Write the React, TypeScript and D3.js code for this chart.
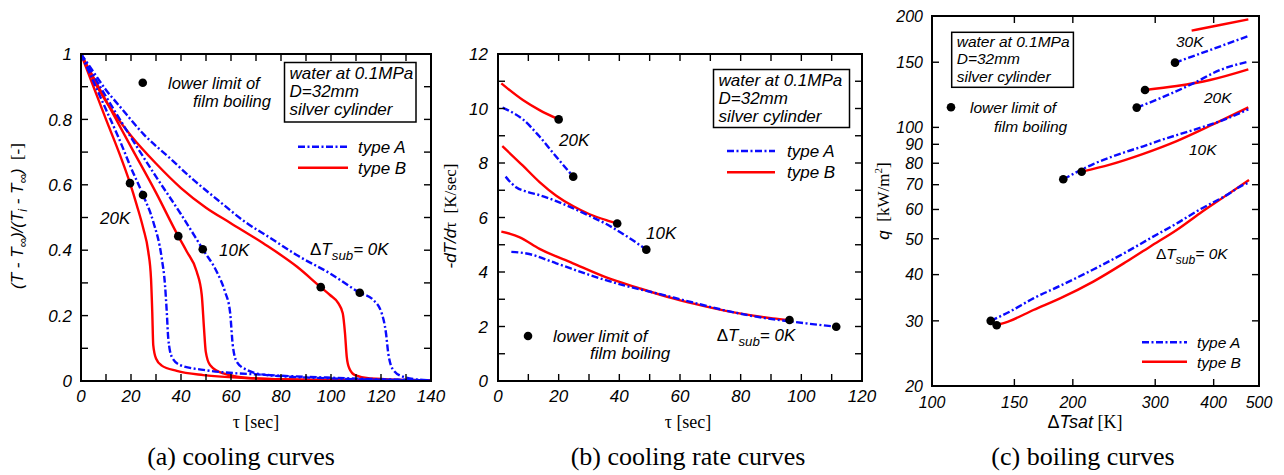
import React from 'react';
import * as d3 from 'd3';

type Pt = [number, number];

// ---------- (a) cooling curves : tau [sec] vs (T - Tinf)/(Ti - Tinf)
const coolA_0K: Pt[] = [[0,1],[5,0.945],[10,0.89],[15.6,0.839],[25,0.755],[35.6,0.681],[45,0.615],[55.6,0.548],[65,0.49],[75.6,0.438],[87,0.382],[99.6,0.329],[111.5,0.27],[116.9,0.248],[120.3,0.207],[122,0.146],[122.9,0.085],[124.9,0.034],[128.9,0.013],[136.9,0.003],[140,0.002]];
const coolB_0K: Pt[] = [[0,1],[5,0.92],[10,0.855],[20,0.75],[30,0.665],[40,0.59],[50,0.53],[59.6,0.484],[72.9,0.421],[86.3,0.35],[95.9,0.287],[99.6,0.263],[102.9,0.238],[104.7,0.207],[105.6,0.146],[106.3,0.074],[107.3,0.039],[109.6,0.018],[115.6,0.008],[140,0.002]];
const coolA_10K: Pt[] = [[0,1],[10,0.87],[20,0.745],[30,0.625],[40,0.51],[48.7,0.403],[54.3,0.334],[57.6,0.273],[59.6,0.212],[60.7,0.11],[62.3,0.059],[66.3,0.034],[74.3,0.018],[100,0.008],[140,0.002]];
const coolB_10K: Pt[] = [[0,1],[10,0.857],[20,0.716],[30,0.576],[38.9,0.443],[42.3,0.396],[46.3,0.334],[48.3,0.263],[49.2,0.161],[49.9,0.09],[51.6,0.049],[56.9,0.023],[68.9,0.008],[100,0.003],[140,0.001]];
const coolA_20K: Pt[] = [[0,1],[5,0.915],[10,0.83],[15,0.745],[20,0.652],[24.8,0.569],[28.9,0.487],[32.3,0.375],[33.6,0.294],[34.3,0.212],[34.9,0.131],[36.3,0.074],[39.6,0.049],[48.9,0.034],[75.6,0.018],[100,0.01],[140,0.002]];
const coolB_20K: Pt[] = [[0,1],[5,0.9],[10,0.8],[15,0.703],[19.6,0.605],[22.3,0.538],[24.9,0.467],[26.9,0.396],[28.0,0.314],[28.5,0.212],[28.9,0.11],[30,0.069],[32.3,0.047],[38.3,0.031],[48.9,0.018],[70,0.008],[100,0.003],[140,0.001]];
const coolDots: Pt[] = [[19.6,0.605],[24.8,0.569],[38.9,0.443],[48.7,0.403],[95.9,0.287],[111.5,0.27]];
const coolLegendDot: Pt = [24.7, 0.912];

// ---------- (b) cooling rate curves : tau [sec] vs -dT/dtau [K/sec]
const rateA_0K: Pt[] = [[4.4,4.74],[9.4,4.68],[19.2,4.32],[30.2,3.89],[41.2,3.52],[52.2,3.22],[63.2,2.91],[74.1,2.61],[85.1,2.36],[96.1,2.19],[111.5,1.99]];
const rateB_0K: Pt[] = [[1.1,5.48],[4,5.4],[7,5.28],[13.7,4.85],[24.7,4.32],[35.7,3.8],[46.7,3.4],[57.7,3.03],[68.7,2.73],[79.6,2.48],[90.6,2.3],[96.1,2.24]];
const rateA_10K: Pt[] = [[2.5,7.5],[4.5,7.25],[6.1,7.1],[9.4,6.95],[13.7,6.82],[19.2,6.6],[24.7,6.34],[30.2,6.06],[35.7,5.76],[42.3,5.32],[48.9,4.82]];
const rateB_10K: Pt[] = [[1.4,8.62],[8.2,7.9],[13.7,7.3],[19.2,6.8],[24.7,6.42],[30.2,6.12],[35.7,5.9],[39.3,5.78]];
const rateA_20K: Pt[] = [[1.5,10.03],[4,9.9],[8.2,9.6],[13.7,8.97],[19.2,8.23],[24.8,7.5]];
const rateB_20K: Pt[] = [[1.1,10.92],[8.2,10.31],[13.7,9.94],[20,9.6]];
const rateDots: Pt[] = [[20,9.6],[24.8,7.5],[39.3,5.78],[48.9,4.82],[96.1,2.24],[111.5,1.99]];
const rateLegendDot: Pt = [9.9, 1.65];

// ---------- (c) boiling curves : dTsat [K] vs q [kW/m2]
const boilA_0K: Pt[] = [[133.5,30.0],[146.8,31.8],[164.7,34.5],[187.8,37.3],[221.2,41.3],[260.7,46.1],[292.4,50.1],[333.4,55.0],[374,60],[426.4,65.6],[462.9,69.9],[476,70.9]];
const boilB_0K: Pt[] = [[137.5,29.2],[146.8,30.0],[164.7,32.1],[187.8,34.5],[221.2,38.3],[260.7,43.4],[292.4,47.6],[333.4,52.8],[374,58.6],[426.4,65.6],[476,72.1]];
const boilA_10K: Pt[] = [[190.8,72.4],[221.2,79.6],[260.7,86.0],[282.9,88.9],[307.1,92.2],[361.9,98.4],[412.7,103.9],[474.4,111.9]];
const boilB_10K: Pt[] = [[208.9,75.9],[240.1,79.3],[282.9,84.8],[333.4,91.8],[392.9,101.0],[474.4,113.3]];
const boilA_20K: Pt[] = [[273.9,113.1],[307.1,119.8],[361.9,131.5],[412.7,142.9],[474.4,150.5]];
const boilB_20K: Pt[] = [[285.3,126.2],[333.4,129.4],[392.9,134.3],[474.4,143.5]];
const boilA_30K: Pt[] = [[330.7,149.6],[392.9,161.8],[474.4,176.6]];
const boilB_30K: Pt[] = [[358.9,182.6],[412.7,189.1],[474.4,195.9]];
const boilDots: Pt[] = [[133.5,30.0],[137.5,29.2],[190.8,72.4],[208.9,75.9],[273.9,113.1],[285.3,126.2],[330.7,149.6]];
const boilLegendDot: Pt = [109.8, 113.3];

// ---------- ticks
const aXTicks = [0,10,20,30,40,50,60,70,80,90,100,110,120,130,140];
const aXLabels = [0,20,40,60,80,100,120,140];
const aYTicks = [0,0.1,0.2,0.3,0.4,0.5,0.6,0.7,0.8,0.9,1];
const aYLabels = [0,0.2,0.4,0.6,0.8,1];
const bXTicks = [0,10,20,30,40,50,60,70,80,90,100,110,120];
const bXLabels = [0,20,40,60,80,100,120];
const bYTicks = [0,1,2,3,4,5,6,7,8,9,10,11,12];
const bYLabels = [0,2,4,6,8,10,12];
const cXTicks = [100,150,200,300,400,500];
const cXLabels = [100,150,200,300,400,500];
const cYTicks = [20,30,40,50,60,70,80,90,100,150,200];
const cYLabels = [20,30,40,50,60,70,80,90,100,150,200];

const SANS = "'Liberation Sans', Arial, Helvetica, sans-serif";
const SERIF = "'Liberation Serif', 'Times New Roman', serif";
const RED = '#ff0000';
const BLUE = '#0a0aff';
const DASH = '7,2.5,2,2.5';
const NB = '\u00a0';

type Scale = (v: number) => number;

function Axes(props: { sx: any; sy: any; xTicks: number[]; yTicks: number[]; xLabels: number[]; yLabels: number[]; fs: number; xDy: number; yGap: number }) {
  const { sx, sy, xTicks, yTicks, xLabels, yLabels, fs, xDy, yGap } = props;
  const [x0, x1] = sx.range();
  const [yb, yt] = sy.range();
  const tl = 7;
  return (
    <g>
      {xTicks.map((t) => (
        <g key={'xt' + t}>
          <line x1={sx(t)} x2={sx(t)} y1={yb} y2={yb - tl} stroke="#000" strokeWidth={1.4} />
          <line x1={sx(t)} x2={sx(t)} y1={yt} y2={yt + tl} stroke="#000" strokeWidth={1.4} />
        </g>
      ))}
      {yTicks.map((t) => (
        <g key={'yt' + t}>
          <line x1={x0} x2={x0 + tl} y1={sy(t)} y2={sy(t)} stroke="#000" strokeWidth={1.4} />
          <line x1={x1} x2={x1 - tl} y1={sy(t)} y2={sy(t)} stroke="#000" strokeWidth={1.4} />
        </g>
      ))}
      <rect x={x0} y={yt} width={x1 - x0} height={yb - yt} fill="none" stroke="#000" strokeWidth={2} />
      {xLabels.map((t) => (
        <text key={'xl' + t} x={sx(t)} y={yb + xDy} textAnchor="middle" fontFamily={SANS} fontStyle="italic" fontSize={fs}>{String(t)}</text>
      ))}
      {yLabels.map((t) => (
        <text key={'yl' + t} x={x0 - yGap} y={sy(t)} dy="0.36em" textAnchor="end" fontFamily={SANS} fontStyle="italic" fontSize={fs}>{String(t)}</text>
      ))}
    </g>
  );
}

function Curve({ data, sx, sy, kind }: { data: Pt[]; sx: Scale; sy: Scale; kind: 'A' | 'B' }) {
  const gen = d3.line<Pt>().x((d) => sx(d[0])).y((d) => sy(d[1])).curve(d3.curveMonotoneX);
  return (
    <path d={gen(data) || ''} fill="none" stroke={kind === 'A' ? BLUE : RED} strokeWidth={2.4}
      strokeDasharray={kind === 'A' ? DASH : undefined} strokeLinejoin="round" />
  );
}

function Dots({ data, sx, sy }: { data: Pt[]; sx: Scale; sy: Scale }) {
  return <g>{data.map((d, i) => <circle key={i} cx={sx(d[0])} cy={sy(d[1])} r={4.3} fill="#000" />)}</g>;
}

function IT({ x, y, fs, children }: { x: number; y: number; fs: number; children: any }) {
  return <text x={x} y={y} fontFamily={SANS} fontStyle="italic" fontSize={fs}>{children}</text>;
}

function InfoBox({ x, y, w, h, fs, lines }: { x: number; y: number; w: number; h: number; fs: number; lines: number[] }) {
  return (
    <g>
      <rect x={x} y={y} width={w} height={h} fill="#fff" stroke="#000" strokeWidth={1.5} />
      <IT x={x + 5} y={lines[0]} fs={fs}>water at 0.1MPa</IT>
      <IT x={x + 5} y={lines[1]} fs={fs}>D=32mm</IT>
      <IT x={x + 5} y={lines[2]} fs={fs}>silver cylinder</IT>
    </g>
  );
}

function Legend({ x, ya, yb, fs, len, gap }: { x: number; ya: number; yb: number; fs: number; len: number; gap: number }) {
  return (
    <g>
      <line x1={x} x2={x + len} y1={ya} y2={ya} stroke={BLUE} strokeWidth={2.4} strokeDasharray={DASH} />
      <IT x={x + len + gap} y={ya + 6} fs={fs}>type A</IT>
      <line x1={x} x2={x + len} y1={yb} y2={yb} stroke={RED} strokeWidth={2.4} />
      <IT x={x + len + gap} y={yb + 6} fs={fs}>type B</IT>
    </g>
  );
}

function Sub0K({ x, y, fs }: { x: number; y: number; fs: number }) {
  return (
    <text x={x} y={y} fontFamily={SANS} fontSize={fs}>
      <tspan>Δ</tspan>
      <tspan fontStyle="italic">T</tspan>
      <tspan fontStyle="italic" fontSize={fs * 0.78} dy={5}>sub</tspan>
      <tspan fontStyle="italic" dy={-5}>= 0K</tspan>
    </text>
  );
}

export default function App() {
  const xa = d3.scaleLinear().domain([0, 140]).range([81, 431]);
  const ya = d3.scaleLinear().domain([0, 1]).range([381, 54]);
  const xb = d3.scaleLinear().domain([0, 120]).range([498, 862]);
  const yb = d3.scaleLinear().domain([0, 12]).range([381, 54]);
  const xc = d3.scaleLog().domain([100, 500]).range([932, 1259]);
  const yc = d3.scaleLog().domain([20, 200]).range([386, 16]);

  const FS = 17;
  const FSC = 15.5;

  return (
    <svg width={1284} height={475} style={{ position: 'absolute', left: 0, top: 0, background: '#fff' }}>
      <rect x={0} y={0} width={1284} height={475} fill="#fff" />

      {/* ---------------- panel (a) ---------------- */}
      <g>
        <Curve data={coolB_0K} sx={xa} sy={ya} kind="B" />
        <Curve data={coolB_10K} sx={xa} sy={ya} kind="B" />
        <Curve data={coolB_20K} sx={xa} sy={ya} kind="B" />
        <Curve data={coolA_0K} sx={xa} sy={ya} kind="A" />
        <Curve data={coolA_10K} sx={xa} sy={ya} kind="A" />
        <Curve data={coolA_20K} sx={xa} sy={ya} kind="A" />
        <Dots data={coolDots} sx={xa} sy={ya} />
        <Axes sx={xa} sy={ya} xTicks={aXTicks} yTicks={aYTicks} xLabels={aXLabels} yLabels={aYLabels} fs={FS} xDy={21} yGap={9} />
        <InfoBox x={284.5} y={62.5} w={131.5} h={59.5} fs={FS} lines={[79, 97, 114.5]} />
        <Legend x={298} ya={146.7} yb={167.7} fs={FS} len={50} gap={10} />
        <circle cx={xa(coolLegendDot[0])} cy={ya(coolLegendDot[1])} r={4.3} fill="#000" />
        <IT x={168} y={88.5} fs={16.5}>lower limit of</IT>
        <IT x={193} y={106.5} fs={16.5}>film boiling</IT>
        <IT x={100} y={223.5} fs={FS}>20K</IT>
        <IT x={219} y={256} fs={FS}>10K</IT>
        <Sub0K x={310} y={255} fs={FS} />
        <text transform="translate(23,216) rotate(-90)" textAnchor="middle" fontFamily={SANS} fontSize={17}>
          <tspan fontStyle="italic">(T - T</tspan>
          <tspan fontStyle="italic" fontSize={13} dy={4}>∞</tspan>
          <tspan fontStyle="italic" dy={-4}>)/(T</tspan>
          <tspan fontStyle="italic" fontSize={12} dy={4}>i</tspan>
          <tspan fontStyle="italic" dy={-4}>{' - T'}</tspan>
          <tspan fontStyle="italic" fontSize={13} dy={4}>∞</tspan>
          <tspan fontStyle="italic" dy={-4}>)</tspan>
          <tspan fontFamily={SERIF}>{NB + NB + '[-]'}</tspan>
        </text>
        <text x={256} y={428} textAnchor="middle" fontFamily={SERIF} fontSize={18}>τ{NB}[sec]</text>
        <text x={241} y={465} textAnchor="middle" fontFamily={SERIF} fontSize={26}>(a) cooling curves</text>
      </g>

      {/* ---------------- panel (b) ---------------- */}
      <g>
        <Curve data={rateB_0K} sx={xb} sy={yb} kind="B" />
        <Curve data={rateB_10K} sx={xb} sy={yb} kind="B" />
        <Curve data={rateB_20K} sx={xb} sy={yb} kind="B" />
        <Curve data={rateA_0K} sx={xb} sy={yb} kind="A" />
        <Curve data={rateA_10K} sx={xb} sy={yb} kind="A" />
        <Curve data={rateA_20K} sx={xb} sy={yb} kind="A" />
        <Dots data={rateDots} sx={xb} sy={yb} />
        <Axes sx={xb} sy={yb} xTicks={bXTicks} yTicks={bYTicks} xLabels={bXLabels} yLabels={bYLabels} fs={FS} xDy={21} yGap={10} />
        <InfoBox x={713.5} y={69.5} w={136} h={58} fs={FS} lines={[85.7, 104, 121.7]} />
        <Legend x={727} ya={151} yb={172.3} fs={FS} len={48} gap={12} />
        <circle cx={xb(rateLegendDot[0])} cy={yb(rateLegendDot[1])} r={4.3} fill="#000" />
        <IT x={553} y={341.7} fs={FS}>lower limit of</IT>
        <IT x={590} y={359.3} fs={FS}>film boiling</IT>
        <IT x={559} y={146} fs={FS}>20K</IT>
        <IT x={646} y={239} fs={FS}>10K</IT>
        <Sub0K x={716.7} y={340.7} fs={FS} />
        <text transform="translate(456,216) rotate(-90)" textAnchor="middle" fontFamily={SANS} fontSize={17}>
          <tspan fontStyle="italic">-dT/d</tspan>
          <tspan fontFamily={SERIF}>τ</tspan>
          <tspan fontFamily={SERIF}>{NB + NB + '[K/sec]'}</tspan>
        </text>
        <text x={688} y={428} textAnchor="middle" fontFamily={SERIF} fontSize={18}>τ{NB}[sec]</text>
        <text x={688} y={465} textAnchor="middle" fontFamily={SERIF} fontSize={26}>(b) cooling rate curves</text>
      </g>

      {/* ---------------- panel (c) ---------------- */}
      <g>
        <Curve data={boilB_0K} sx={xc} sy={yc} kind="B" />
        <Curve data={boilB_10K} sx={xc} sy={yc} kind="B" />
        <Curve data={boilB_20K} sx={xc} sy={yc} kind="B" />
        <Curve data={boilB_30K} sx={xc} sy={yc} kind="B" />
        <Curve data={boilA_0K} sx={xc} sy={yc} kind="A" />
        <Curve data={boilA_10K} sx={xc} sy={yc} kind="A" />
        <Curve data={boilA_20K} sx={xc} sy={yc} kind="A" />
        <Curve data={boilA_30K} sx={xc} sy={yc} kind="A" />
        <Dots data={boilDots} sx={xc} sy={yc} />
        <Axes sx={xc} sy={yc} xTicks={cXTicks} yTicks={cYTicks} xLabels={cXLabels} yLabels={cYLabels} fs={16} xDy={22} yGap={9} />
        <InfoBox x={951.7} y={32.3} w={121.7} h={55} fs={FSC} lines={[46.7, 64.3, 81.7]} />
        <Legend x={1142} ya={342.3} yb={361.7} fs={FSC} len={45} gap={10} />
        <circle cx={xc(boilLegendDot[0])} cy={yc(boilLegendDot[1])} r={4.3} fill="#000" />
        <IT x={970} y={113.3} fs={FSC}>lower limit of</IT>
        <IT x={994} y={131.7} fs={FSC}>film boiling</IT>
        <IT x={1176} y={46.7} fs={FSC}>30K</IT>
        <IT x={1204} y={102.7} fs={FSC}>20K</IT>
        <IT x={1189} y={155} fs={FSC}>10K</IT>
        <Sub0K x={1156} y={259.3} fs={FSC} />
        <text transform="translate(889,201) rotate(-90)" textAnchor="middle" fontFamily={SERIF} fontSize={17}>
          <tspan fontFamily={SANS} fontStyle="italic">q</tspan>
          <tspan>{NB + NB + '[kW/m'}</tspan>
          <tspan fontSize={11} dy={-7}>2</tspan>
          <tspan dy={7}>]</tspan>
        </text>
        <text x={1085} y={428} textAnchor="middle" fontFamily={SERIF} fontSize={18}>
          <tspan fontFamily={SANS}>Δ</tspan>
          <tspan fontFamily={SANS} fontStyle="italic">Tsat</tspan>
          <tspan>{NB + '[K]'}</tspan>
        </text>
        <text x={1083} y={465} textAnchor="middle" fontFamily={SERIF} fontSize={26}>(c) boiling curves</text>
      </g>
    </svg>
  );
}
